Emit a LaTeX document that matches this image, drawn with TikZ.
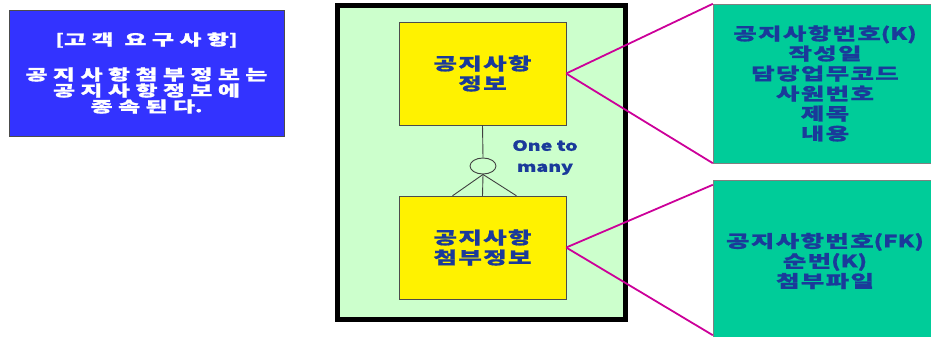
\documentclass[tikz,border=0pt]{standalone}
\usepackage{fontspec}
\usetikzlibrary{shapes.geometric,calc}
\newfontfamily\kr[FakeStretch=1.5,LetterSpace=8,BoldFeatures={FakeBold=1}]{Noto Sans CJK KR}
\newfontfamily\krwide[FakeStretch=1.6,LetterSpace=36,BoldFeatures={FakeBold=1}]{Noto Sans CJK KR}
\newfontfamily\krl[FakeStretch=1.4,BoldFeatures={FakeBold=1}]{Noto Sans CJK KR}
\newcommand\lat[1]{{\krl\bfseries #1}}

\definecolor{reqblue}{HTML}{3333FF}
\definecolor{panelgreen}{HTML}{CCFFCC}
\definecolor{attrteal}{HTML}{00CC99}
\definecolor{linkpink}{HTML}{CC0099}
\definecolor{textblue}{HTML}{1A3A9A}

\begin{document}
\begin{tikzpicture}[x=1pt, y=-1pt,
  entity/.style={draw=black!70, fill=yellow, minimum width=167pt, minimum height=103pt,
    inner sep=0pt, align=center, text=textblue, font=\kr\bfseries\fontsize{17}{20}\selectfont},
  attrbox/.style={draw=black!50, fill=attrteal, minimum width=224pt, inner sep=0pt,
    align=center, text=textblue, font=\kr\bfseries\fontsize{17}{20}\selectfont},
  link/.style={draw=linkpink, line width=1.8pt},
  relline/.style={draw=black!75, line width=0.9pt}]
\useasboundingbox (0,0) rectangle (931,337);
\clip (0,0) rectangle (931,337);

% requirement note
\node[draw=black!70, fill=reqblue, minimum width=275pt, minimum height=126pt, inner sep=0pt,
  align=center, text=white, font=\krwide\bfseries\fontsize{15}{16}\selectfont]
  (req) at (146.5,73) {\lat{[}고객 요구사항\lat{]}\\[19pt]공지사항첨부정보는\\공지사항정보에\\종속된다\lat{.}};

% entity panel
\node[draw=black, line width=5pt, fill=panelgreen, minimum width=288pt, minimum height=314pt]
  (panel) at (481.5,162.5) {};
\node[entity] (notice) at (482.5,73.5) {공지사항\\정보};
\node[entity] (attach) at (482.5,247.5) {공지사항\\첨부정보};

% one to many (optional, crow's foot)
\node[ellipse, draw=black!75, line width=0.9pt, fill=panelgreen, minimum width=26pt,
  minimum height=16pt, inner sep=0pt] (opt) at (483,166) {};
\draw[relline] (notice.south) -- (opt.north);
\draw[relline] (opt.south) -- (attach.north);
\draw[relline] (opt.south) -- ($(attach.north)+(-30,0)$);
\draw[relline] (opt.south) -- ($(attach.north)+(34,0)$);
\node[align=center, text=textblue, font=\krl\bfseries\fontsize{14}{21}\selectfont]
  (card) at (545,157.5) {One to\\many};

% attribute lists
\node[attrbox, minimum height=159pt] (noticeattr) at (825,83.5)
  {공지사항번호\lat{(K)}\\작성일\\담당업무코드\\사원번호\\제목\\내용};
\node[attrbox, minimum height=162pt] (attachattr) at (825,261)
  {공지사항번호\lat{(FK)}\\순번\lat{(K)}\\첨부파일};

\draw[link] (notice.east) -- (noticeattr.north west);
\draw[link] (notice.east) -- (noticeattr.south west);
\draw[link] (attach.east) -- ($(attachattr.north west)+(0,5)$);
\draw[link] (attach.east) -- ($(attachattr.south west)+(0,-7)$);
\end{tikzpicture}
\end{document}
